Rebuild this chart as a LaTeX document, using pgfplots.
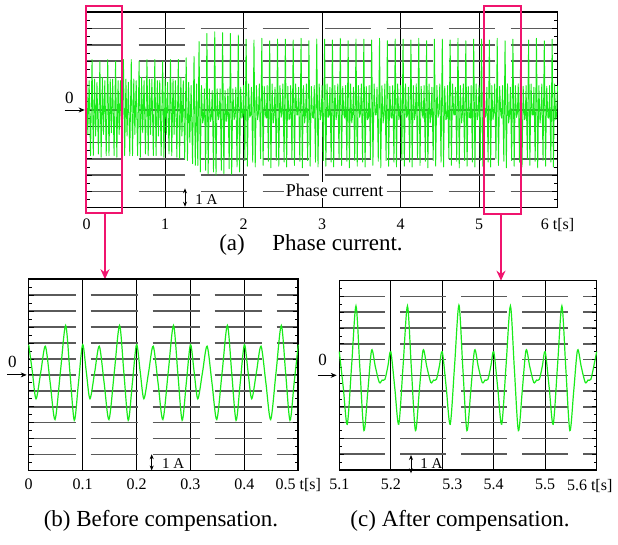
\documentclass[border=0pt]{standalone}
\usepackage{fontspec}
\setmainfont{Liberation Serif}
\usepackage{pgfplots}
\pgfplotsset{compat=1.18}
\usetikzlibrary{arrows.meta}

\definecolor{sig}{RGB}{25,235,25}
\definecolor{zoompink}{RGB}{240,20,110}
\definecolor{gridgray}{RGB}{90,90,90}

\pgfplotsset{
  scopeaxis/.style={
    scale only axis, clip=false,
    ymin=-6, ymax=6, ytick={-6,...,6}, yticklabels={},
    minor y tick num=1,
    tick align=inside, major tick length=2.5pt, minor tick length=1.5pt,
    tick style={black, line width=0.4pt},
    xmajorgrids, ymajorgrids,
    x grid style={black, line width=0.45pt},
    y grid style={gridgray, line width=0.75pt},
    axis line style={black, line width=0.8pt},
    xticklabel style={font=\fontsize{8}{9.6}\selectfont},
  },
}

\begin{document}
\begin{tikzpicture}
\useasboundingbox (0,0) rectangle (309pt,-272.5pt);

% (a) whole record
\begin{axis}[scopeaxis, name=top,
  at={(43.35pt,-103.85pt)}, anchor=south west,
  width=235.4pt, height=97.7pt,
  xmin=0, xmax=6, xtick={0,1,2,3,4,5,6},
  xticklabels={0,1,2,3,4,5,{6 t[s]}},
  xticklabel style={yshift=-2pt},
  y grid style={dash pattern=on 23pt off 8pt, dash phase=5pt},
]
\addplot[sig, line width=0.45pt, line join=round] coordinates {
(0.000,1.9) (0.014,-1.5) (0.031,1.8) (0.049,-2.8) (0.068,3.1) (0.084,-2.8)
(0.100,1.9) (0.114,-1.6) (0.131,1.7) (0.149,-2.7) (0.168,3.0) (0.184,-2.9)
(0.200,2.0) (0.214,-1.5) (0.231,1.8) (0.249,-2.8) (0.268,3.1) (0.284,-2.8)
(0.300,1.9) (0.314,-1.4) (0.331,1.9) (0.349,-2.8) (0.368,3.0) (0.384,-2.9)
(0.400,1.8) (0.414,-1.5) (0.431,1.8) (0.449,-2.7) (0.468,3.1) (0.484,-2.8)
(0.500,1.9) (0.514,-1.6) (0.531,1.7) (0.549,-2.8) (0.568,3.1) (0.584,-2.8)
(0.600,1.9) (0.614,-1.5) (0.631,1.8) (0.649,-2.8) (0.668,3.0) (0.684,-2.9)
(0.700,2.0) (0.714,-1.4) (0.731,1.8) (0.749,-2.7) (0.768,3.1) (0.784,-2.8)
(0.800,1.9) (0.814,-1.5) (0.831,1.9) (0.849,-2.8) (0.868,3.1) (0.884,-2.8)
(0.900,1.8) (0.914,-1.6) (0.931,1.8) (0.949,-2.8) (0.968,3.0) (0.984,-2.9)
(1.000,1.9) (1.014,-1.5) (1.031,1.7) (1.049,-2.7) (1.068,3.1) (1.084,-2.8)
(1.100,1.9) (1.114,-1.5) (1.131,1.8) (1.149,-2.9) (1.168,3.1) (1.184,-3.0)
(1.200,2.0) (1.214,-1.6) (1.231,1.8) (1.249,-3.0) (1.268,3.2) (1.284,-3.1)
(1.300,1.7) (1.314,-2.0) (1.331,1.5) (1.349,-3.3) (1.368,3.3) (1.384,-3.4)
(1.400,1.6) (1.416,-3.4) (1.432,4.2) (1.448,-3.8) (1.463,1.5) (1.478,-0.8) (1.489,-0.5)
(1.500,1.3) (1.516,-3.7) (1.532,4.7) (1.548,-3.9) (1.563,1.3) (1.578,-0.7) (1.589,-0.4)
(1.600,1.2) (1.616,-3.8) (1.632,4.8) (1.648,-4.0) (1.663,1.3) (1.678,-0.6) (1.689,-0.4)
(1.700,1.3) (1.716,-3.7) (1.732,4.75) (1.748,-3.9) (1.763,1.2) (1.778,-0.7) (1.789,-0.3)
(1.800,1.3) (1.816,-3.6) (1.832,4.7) (1.848,-3.95) (1.863,1.3) (1.878,-0.6) (1.889,-0.4)
(1.900,1.4) (1.916,-3.5) (1.932,4.6) (1.948,-3.8) (1.963,1.4) (1.978,-0.5) (1.989,-0.3)
(2.000,1.5) (2.016,-3.1) (2.032,4.35) (2.048,-3.45) (2.063,1.6) (2.078,-0.45) (2.089,-0.3)
(2.100,1.4) (2.116,-3.2) (2.132,4.3) (2.148,-3.5) (2.163,1.5) (2.178,-0.6) (2.189,-0.2)
(2.200,1.6) (2.216,-3.0) (2.232,4.4) (2.248,-3.4) (2.263,1.45) (2.278,-0.3) (2.289,-0.5)
(2.300,1.5) (2.316,-3.15) (2.332,4.25) (2.348,-3.55) (2.363,1.6) (2.378,-0.8) (2.389,-0.3)
(2.400,1.4) (2.416,-3.1) (2.432,4.35) (2.448,-3.45) (2.463,1.5) (2.478,-0.45) (2.489,-0.2)
(2.500,1.6) (2.516,-3.2) (2.532,4.35) (2.548,-3.5) (2.563,1.45) (2.578,-0.6) (2.589,-0.5)
(2.600,1.5) (2.616,-3.0) (2.632,4.3) (2.648,-3.4) (2.663,1.6) (2.678,-0.3) (2.689,-0.3)
(2.700,1.4) (2.716,-3.15) (2.732,4.4) (2.748,-3.55) (2.763,1.5) (2.778,-0.8) (2.789,-0.2)
(2.800,1.6) (2.816,-3.1) (2.832,4.25) (2.848,-3.45) (2.863,1.45) (2.878,-0.45) (2.889,-0.5)
(2.900,1.5) (2.916,-3.2) (2.932,4.35) (2.948,-3.5) (2.963,1.6) (2.978,-0.6) (2.989,-0.3)
(3.000,1.5) (3.016,-3.1) (3.032,4.35) (3.048,-3.45) (3.063,1.6) (3.078,-0.45) (3.089,-0.3)
(3.100,1.4) (3.116,-3.2) (3.132,4.3) (3.148,-3.5) (3.163,1.5) (3.178,-0.6) (3.189,-0.2)
(3.200,1.6) (3.216,-3.0) (3.232,4.4) (3.248,-3.4) (3.263,1.45) (3.278,-0.3) (3.289,-0.5)
(3.300,1.5) (3.316,-3.15) (3.332,4.25) (3.348,-3.55) (3.363,1.6) (3.378,-0.8) (3.389,-0.3)
(3.400,1.4) (3.416,-3.1) (3.432,4.35) (3.448,-3.45) (3.463,1.5) (3.478,-0.45) (3.489,-0.2)
(3.500,1.6) (3.516,-3.2) (3.532,4.35) (3.548,-3.5) (3.563,1.45) (3.578,-0.6) (3.589,-0.5)
(3.600,1.5) (3.616,-3.0) (3.632,4.3) (3.648,-3.4) (3.663,1.6) (3.678,-0.3) (3.689,-0.3)
(3.700,1.4) (3.716,-3.15) (3.732,4.4) (3.748,-3.55) (3.763,1.5) (3.778,-0.8) (3.789,-0.2)
(3.800,1.6) (3.816,-3.1) (3.832,4.25) (3.848,-3.45) (3.863,1.45) (3.878,-0.45) (3.889,-0.5)
(3.900,1.5) (3.916,-3.2) (3.932,4.35) (3.948,-3.5) (3.963,1.6) (3.978,-0.6) (3.989,-0.3)
(4.000,1.5) (4.016,-3.1) (4.032,4.35) (4.048,-3.45) (4.063,1.6) (4.078,-0.45) (4.089,-0.3)
(4.100,1.4) (4.116,-3.2) (4.132,4.3) (4.148,-3.5) (4.163,1.5) (4.178,-0.6) (4.189,-0.2)
(4.200,1.6) (4.216,-3.0) (4.232,4.4) (4.248,-3.4) (4.263,1.45) (4.278,-0.3) (4.289,-0.5)
(4.300,1.5) (4.316,-3.15) (4.332,4.25) (4.348,-3.55) (4.363,1.6) (4.378,-0.8) (4.389,-0.3)
(4.400,1.4) (4.416,-3.1) (4.432,4.35) (4.448,-3.45) (4.463,1.5) (4.478,-0.45) (4.489,-0.2)
(4.500,1.6) (4.516,-3.2) (4.532,4.35) (4.548,-3.5) (4.563,1.45) (4.578,-0.6) (4.589,-0.5)
(4.600,1.5) (4.616,-3.0) (4.632,4.3) (4.648,-3.4) (4.663,1.6) (4.678,-0.3) (4.689,-0.3)
(4.700,1.4) (4.716,-3.15) (4.732,4.4) (4.748,-3.55) (4.763,1.5) (4.778,-0.8) (4.789,-0.2)
(4.800,1.6) (4.816,-3.1) (4.832,4.25) (4.848,-3.45) (4.863,1.45) (4.878,-0.45) (4.889,-0.5)
(4.900,1.5) (4.916,-3.2) (4.932,4.35) (4.948,-3.5) (4.963,1.6) (4.978,-0.6) (4.989,-0.3)
(5.000,1.5) (5.016,-3.1) (5.032,4.35) (5.048,-3.45) (5.063,1.6) (5.078,-0.45) (5.089,-0.3)
(5.100,1.4) (5.116,-3.2) (5.132,4.3) (5.148,-3.5) (5.163,1.5) (5.178,-0.6) (5.189,-0.2)
(5.200,1.6) (5.216,-3.0) (5.232,4.4) (5.248,-3.4) (5.263,1.45) (5.278,-0.3) (5.289,-0.5)
(5.300,1.5) (5.316,-3.15) (5.332,4.25) (5.348,-3.55) (5.363,1.6) (5.378,-0.8) (5.389,-0.3)
(5.400,1.4) (5.416,-3.1) (5.432,4.35) (5.448,-3.45) (5.463,1.5) (5.478,-0.45) (5.489,-0.2)
(5.500,1.6) (5.516,-3.2) (5.532,4.35) (5.548,-3.5) (5.563,1.45) (5.578,-0.6) (5.589,-0.5)
(5.600,1.5) (5.616,-3.0) (5.632,4.3) (5.648,-3.4) (5.663,1.6) (5.678,-0.3) (5.689,-0.3)
(5.700,1.4) (5.716,-3.15) (5.732,4.4) (5.748,-3.55) (5.763,1.5) (5.778,-0.8) (5.789,-0.2)
(5.800,1.6) (5.816,-3.1) (5.832,4.25) (5.848,-3.45) (5.863,1.45) (5.878,-0.45) (5.889,-0.5)
(5.900,1.5) (5.916,-3.2) (5.932,4.35) (5.948,-3.5) (5.963,1.6) (5.978,-0.6) (5.989,-0.3)
(6.000,1.5)
};
% zero marker, scale marker and label
\draw[-{Stealth[length=3pt,width=2.5pt]}, line width=0.4pt] ([xshift=-11pt]axis cs:0,0) -- ([xshift=-1pt]axis cs:0,0);
\node[font=\fontsize{8.5}{10}\selectfont] at ([xshift=-8.7pt,yshift=5.85pt]axis cs:0,0) {0};
\draw[{Stealth[length=2.5pt,width=2pt]}-{Stealth[length=2.5pt,width=2pt]}, line width=0.4pt] (axis cs:1.253,-4.81) -- (axis cs:1.253,-5.94);
\node[anchor=west, inner sep=0pt, font=\fontsize{7.5}{9}\selectfont] at (axis cs:1.38,-5.53) {1 A};
\node[fill=white, inner sep=1pt, font=\fontsize{9}{10.8}\selectfont] at (axis cs:3.16,-4.91) {Phase current};
% zoom windows
\draw[zoompink, line width=0.9pt] (axis cs:-0.01,6.39) rectangle (axis cs:0.455,-6.34);
\draw[zoompink, line width=0.9pt, -{Stealth[length=5pt,width=4.5pt]}] (axis cs:0.233,-6.34) -- ([yshift=-33pt]axis cs:0.233,-6.34);
\draw[zoompink, line width=0.9pt] (axis cs:5.063,6.37) rectangle (axis cs:5.53,-6.37);
\draw[zoompink, line width=0.9pt, -{Stealth[length=5pt,width=4.5pt]}] (axis cs:5.28,-6.37) -- ([yshift=-33.5pt]axis cs:5.28,-6.37);
\end{axis}

% (b) before compensation
\begin{axis}[scopeaxis, name=before,
  at={(14.35pt,-235.25pt)}, anchor=south west,
  width=134.8pt, height=95.6pt,
  xmin=0, xmax=0.5, xtick={0,0.1,0.2,0.3,0.4,0.5},
  xticklabels={0,0.1,\raisebox{5pt}{0.2},0.3,0.4,{0.5 t[s]}},
  xticklabel style={yshift=-0.5pt},
  y grid style={dash pattern=on 23.5pt off 7.5pt},
]
\addplot[sig, line width=0.6pt, smooth] coordinates {
(0.0000,1.9) (0.0068,0.2) (0.0136,-1.5) (0.0223,0.15) (0.0309,1.8) (0.0399,-0.5) (0.0488,-2.8) (0.0587,0.15) (0.0685,3.1) (0.0766,0.1) (0.0846,-2.85) (0.0923,-0.5)
(0.1000,1.9) (0.1068,0.2) (0.1136,-1.5) (0.1223,0.15) (0.1309,1.8) (0.1399,-0.5) (0.1488,-2.8) (0.1587,0.15) (0.1685,3.1) (0.1766,0.1) (0.1846,-2.85) (0.1923,-0.5)
(0.2000,1.9) (0.2068,0.2) (0.2136,-1.5) (0.2223,0.15) (0.2309,1.8) (0.2399,-0.5) (0.2488,-2.8) (0.2587,0.15) (0.2685,3.1) (0.2766,0.1) (0.2846,-2.85) (0.2923,-0.5)
(0.3000,1.9) (0.3068,0.2) (0.3136,-1.5) (0.3223,0.15) (0.3309,1.8) (0.3399,-0.5) (0.3488,-2.8) (0.3587,0.15) (0.3685,3.1) (0.3766,0.1) (0.3846,-2.85) (0.3923,-0.5)
(0.4000,1.9) (0.4068,0.2) (0.4136,-1.5) (0.4223,0.15) (0.4309,1.8) (0.4399,-0.5) (0.4488,-2.8) (0.4587,0.15) (0.4685,3.1) (0.4766,0.1) (0.4846,-2.85) (0.4923,-0.5)
(0.5000,1.9)
};
\draw[-{Stealth[length=3pt,width=2.5pt]}, line width=0.4pt] ([xshift=-10.7pt]axis cs:0,0) -- ([xshift=-1pt]axis cs:0,0);
\node[font=\fontsize{8.5}{10}\selectfont] at ([xshift=-8.2pt,yshift=6.65pt]axis cs:0,0) {0};
\draw[{Stealth[length=2.5pt,width=2pt]}-{Stealth[length=2.5pt,width=2pt]}, line width=0.4pt] (axis cs:0.2281,-4.98) -- (axis cs:0.2281,-6.0);
\node[anchor=west, inner sep=0pt, font=\fontsize{7.5}{9}\selectfont] at (axis cs:0.2467,-5.55) {1 A};
\end{axis}

% (c) after compensation
\begin{axis}[scopeaxis, name=after,
  at={(169.65pt,-235pt)}, anchor=south west,
  width=128.7pt, height=94.65pt,
  xmin=5.1, xmax=5.6, xtick={5.1,5.2,5.3,5.4,5.5,5.6},
  xticklabels={5.1,5.2,\hspace*{10pt}5.3,5.4,5.5,{5.6 t[s]\hspace*{7pt}}},
  xticklabel style={yshift=-1pt},
  y grid style={dash pattern=on 23pt off 7.5pt},
]
\addplot[sig, line width=0.6pt, smooth] coordinates {
(5.1000,1.5) (5.1078,-0.8) (5.1155,-3.1) (5.1240,0.65) (5.1324,4.4) (5.1400,0.45) (5.1479,-3.5) (5.1555,-0.95) (5.1628,1.6) (5.1700,0.55) (5.1777,-0.45) (5.1832,-0.3) (5.1887,-0.25) (5.1945,0.6)
(5.2000,1.5) (5.2078,-0.8) (5.2155,-3.1) (5.2240,0.65) (5.2324,4.4) (5.2400,0.45) (5.2479,-3.5) (5.2555,-0.95) (5.2628,1.6) (5.2700,0.55) (5.2777,-0.45) (5.2832,-0.3) (5.2887,-0.25) (5.2945,0.6)
(5.3000,1.5) (5.3078,-0.8) (5.3155,-3.1) (5.3240,0.65) (5.3324,4.45) (5.3400,0.45) (5.3479,-3.5) (5.3555,-0.95) (5.3628,1.6) (5.3700,0.55) (5.3777,-0.45) (5.3832,-0.3) (5.3887,-0.25) (5.3945,0.6)
(5.4000,1.5) (5.4078,-0.8) (5.4155,-3.1) (5.4240,0.65) (5.4324,4.4) (5.4400,0.45) (5.4479,-3.5) (5.4555,-0.95) (5.4628,1.6) (5.4700,0.55) (5.4777,-0.45) (5.4832,-0.3) (5.4887,-0.25) (5.4945,0.6)
(5.5000,1.5) (5.5078,-0.8) (5.5155,-3.1) (5.5240,0.65) (5.5324,4.4) (5.5400,0.45) (5.5479,-3.5) (5.5555,-0.95) (5.5628,1.6) (5.5700,0.55) (5.5777,-0.45) (5.5832,-0.3) (5.5887,-0.25) (5.5945,0.6)
(5.6000,1.5)
};
\draw[-{Stealth[length=3pt,width=2.5pt]}, line width=0.4pt] ([xshift=-10.8pt]axis cs:5.1,0) -- ([xshift=-1.3pt]axis cs:5.1,0);
\node[font=\fontsize{8.5}{10}\selectfont] at ([xshift=-8.3pt,yshift=7.6pt]axis cs:5.1,0) {0};
\draw[{Stealth[length=2.5pt,width=2pt]}-{Stealth[length=2.5pt,width=2pt]}, line width=0.4pt] (axis cs:5.2393,-5.05) -- (axis cs:5.2393,-6.21);
\node[anchor=west, inner sep=0pt, font=\fontsize{7.5}{9}\selectfont] at (axis cs:5.2568,-5.58) {1 A};
\end{axis}

% captions
\node[font=\fontsize{11.5}{13.8}\selectfont] at (155.5pt,-122.5pt) {(a)\hspace{1.2em}Phase current.};
\node[font=\fontsize{11.5}{13.8}\selectfont] at (80.5pt,-260.5pt) {(b) Before compensation.};
\node[font=\fontsize{11.5}{13.8}\selectfont] at (230pt,-260.5pt) {(c) After compensation.};
\end{tikzpicture}
\end{document}
